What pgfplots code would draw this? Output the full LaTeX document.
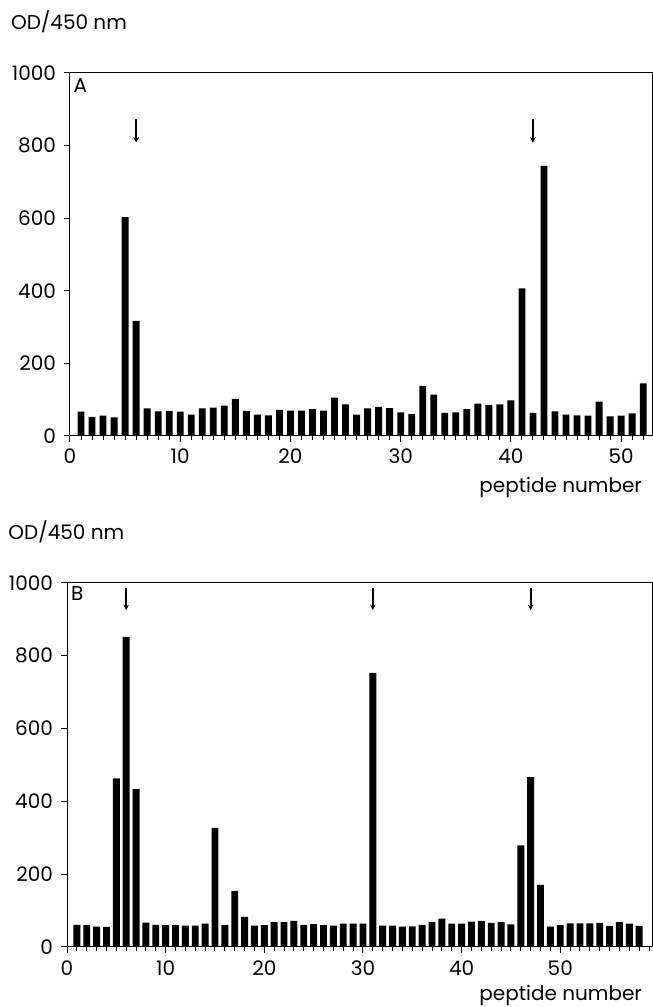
\documentclass[border=0pt]{standalone}
\usepackage{pgfplots}
\pgfplotsset{compat=1.18}
\usepackage{fontspec}
\setmainfont{Poppins}
\usetikzlibrary{arrows.meta}

\pgfplotstableread{
x y
1 67
2 53
3 56
4 51
5 603
6 317
7 76
8 68
9 69
10 67
11 59
12 76
13 78
14 84
15 102
16 69
17 59
18 57
19 72
20 70
21 70
22 74
23 70
24 106
25 87
26 59
27 76
28 80
29 77
30 65
31 60
32 138
33 114
34 64
35 65
36 74
37 89
38 85
39 87
40 98
41 407
42 64
43 744
44 68
45 59
46 57
47 56
48 95
49 54
50 56
51 62
52 145
}\dataA

\pgfplotstableread{
x y
1 61
2 60
3 56
4 55
5 463
6 852
7 434
8 67
9 61
10 60
11 60
12 59
13 59
14 64
15 327
16 61
17 154
18 83
19 59
20 60
21 68
22 68
23 72
24 61
25 63
26 60
27 59
28 64
29 64
30 64
31 753
32 59
33 59
34 56
35 57
36 61
37 68
38 78
39 64
40 64
41 70
42 72
43 66
44 68
45 62
46 279
47 467
48 171
49 56
50 60
51 65
52 65
53 65
54 66
55 58
56 68
57 64
58 58
}\dataB

\tikzset{arr/.style={-{Stealth[length=2.8pt,width=2.8pt]}, line width=1.1pt}}

\pgfplotsset{
  panel/.style={
    scale only axis,
    anchor=south west,
    ymin=0, ymax=1000,
    xmin=0,
    ytick={0,200,...,1000},
    xtick={0,10,...,50},
    minor xtick={1,...,59},
    tick align=outside,
    xtick pos=bottom, ytick pos=left,
    axis line style={line width=0.5pt},
    tick style={black, line width=0.5pt},
    major tick length=3pt,
    minor tick length=1.8pt,
    ticklabel style={font=\fontsize{10}{12}\selectfont},
    /pgf/number format/assume math mode=true,
    /pgf/number format/1000 sep={},
    xticklabel style={yshift=0pt},
    yticklabel style={xshift=-0.5pt},
    clip=false,
  },
}

\begin{document}
\begin{tikzpicture}
\useasboundingbox (0,0) rectangle (326.5pt,503.5pt);
\fontsize{10}{12}\selectfont

\node[anchor=west] at (2pt,492.5pt) {OD/450 nm};
\node[anchor=east] at (324.5pt,259.75pt) {peptide number};

\begin{axis}[panel, at={(35pt,285.5pt)}, width=291pt, height=181.5pt,
  xmax=52.8]
\addplot[ybar, bar width=0.62, fill=black, draw=none] table[x=x,y=y] {\dataA};
\node at (axis cs:0.95,966) {A};
\draw[arr] (axis cs:6,872) -- (axis cs:6,808);
\draw[arr] (axis cs:42,872) -- (axis cs:42,808);
\end{axis}

\node[anchor=west] at (0.7pt,237.5pt) {OD/450 nm};
\node[anchor=east] at (324.5pt,6pt) {peptide number};

\begin{axis}[panel, at={(33.5pt,30pt)}, width=292.5pt, height=182pt,
  xmax=59.3, xticklabel style={yshift=-0.5pt}]
\addplot[ybar, bar width=0.7, fill=black, draw=none] table[x=x,y=y] {\dataB};
\node at (axis cs:1.05,970) {B};
\draw[arr] (axis cs:6,987) -- (axis cs:6,925);
\draw[arr] (axis cs:31,987) -- (axis cs:31,925);
\draw[arr] (axis cs:47,987) -- (axis cs:47,925);
\end{axis}
\end{tikzpicture}
\end{document}
